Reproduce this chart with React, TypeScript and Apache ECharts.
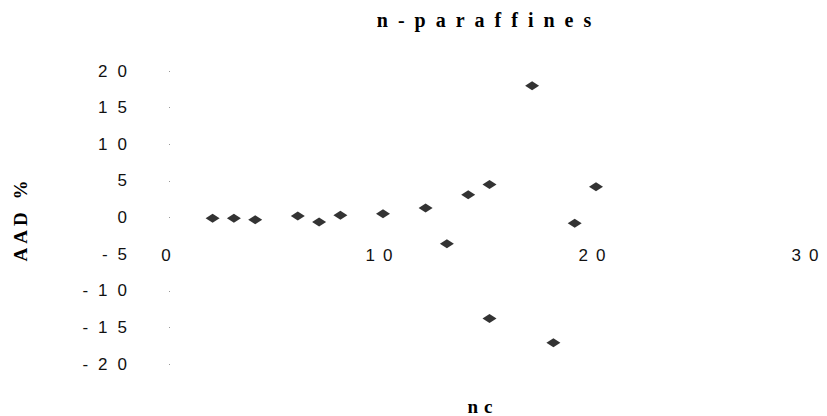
import React, { useEffect, useRef } from "react";
import * as echarts from "echarts";

const nc = [2, 3, 4, 6, 7, 8, 10, 12, 13, 14, 15, 15, 17, 18, 19, 20];
const aad = [-0.1, -0.1, -0.3, 0.2, -0.6, 0.3, 0.5, 1.3, -3.6, 3.1, 4.5, -13.8, 18.0, -17.1, -0.8, 4.2];
const titleText = "n-paraffines";
const yName = "AAD %";
const xName = "nc";

const spacingFor = (t: string, anchor: string | null): number => {
  if (t === titleText) return 10;
  if (t === yName) return 4;
  if (t === xName) return 6;
  if (/^-?\d+$/.test(t)) return anchor === "middle" ? 8 : 10;
  return 0;
};

const GRID_TOP = 71;
const GRID_BOTTOM = 52;
const H = 416;

export default function App() {
  const ref = useRef<HTMLDivElement>(null);
  useEffect(() => {
    if (!ref.current) return;
    const chart = echarts.init(ref.current, null, { renderer: "svg" });
    const points = nc.map((x, i) => [x, aad[i]]);
    const gridH = H - GRID_TOP - GRID_BOTTOM;
    chart.setOption({
      animation: false,
      backgroundColor: "#ffffff",
      grid: { left: 170, right: 18, top: GRID_TOP, bottom: GRID_BOTTOM },
      xAxis: {
        type: "value",
        min: 0,
        max: 30,
        interval: 10,
        offset: -gridH / 2,
        axisLine: { show: false, onZero: false },
        axisTick: { show: false },
        splitLine: { show: false },
        axisLabel: {
          margin: 29,
          color: "#111",
          fontSize: 17,
          fontFamily: "Liberation Sans, Arial, sans-serif",
        },
      },
      yAxis: {
        type: "value",
        min: -20,
        max: 20,
        interval: 5,
        axisLine: { show: false },
        axisTick: { show: true, length: 1, lineStyle: { color: "#999", width: 1 } },
        splitLine: { show: false },
        axisLabel: {
          margin: 33,
          color: "#111",
          fontSize: 17,
          fontFamily: "Liberation Sans, Arial, sans-serif",
        },
      },
      graphic: [
        {
          type: "text",
          x: 489,
          y: 20,
          style: {
            text: titleText,
            align: "center",
            verticalAlign: "middle",
            font: "bold 20px 'Liberation Serif', 'Times New Roman', serif",
            fill: "#000",
          },
        },
        {
          type: "text",
          x: 20,
          y: 219,
          rotation: Math.PI / 2,
          style: {
            text: yName,
            align: "center",
            verticalAlign: "middle",
            font: "bold 19px 'Liberation Serif', 'Times New Roman', serif",
            fill: "#000",
          },
        },
        {
          type: "text",
          x: 483,
          y: 406,
          style: {
            text: xName,
            align: "center",
            verticalAlign: "middle",
            font: "bold 19px 'Liberation Serif', 'Times New Roman', serif",
            fill: "#000",
          },
        },
      ],
      series: [
        {
          type: "scatter",
          data: points,
          symbol: "diamond",
          symbolSize: [14, 9],
          itemStyle: { color: "#000" },
        },
      ],
    });
    const applySpacing = () => {
      if (!ref.current) return;
      ref.current.querySelectorAll("text").forEach((el) => {
        const t = (el.textContent || "").trim();
        const s = spacingFor(t, el.getAttribute("text-anchor"));
        if (s) (el as SVGTextElement).style.letterSpacing = s + "px";
      });
    };
    applySpacing();
    chart.on("finished", applySpacing);
    const timer = setTimeout(applySpacing, 50);
    return () => {
      clearTimeout(timer);
      chart.dispose();
    };
  }, []);
  return (
    <div
      ref={ref}
      style={{ position: "fixed", left: 0, top: 0, width: 827, height: 416, background: "#fff" }}
    />
  );
}
